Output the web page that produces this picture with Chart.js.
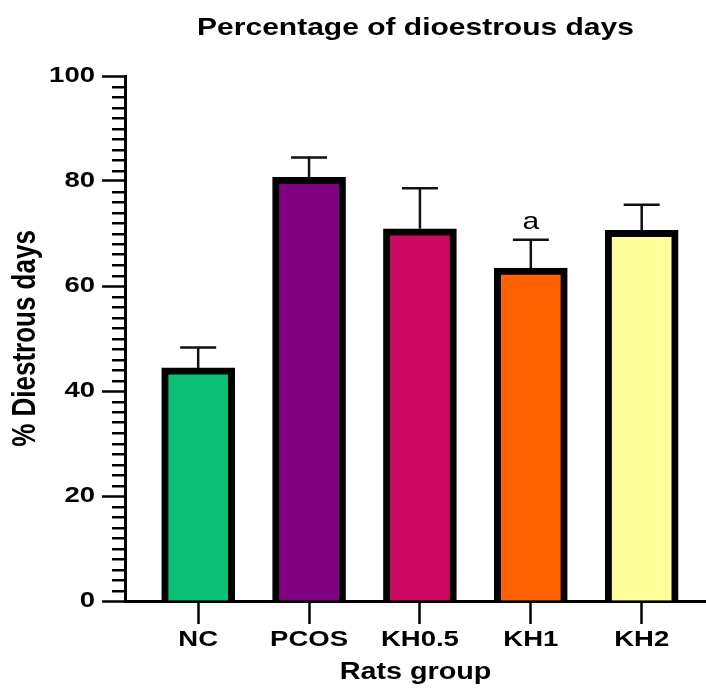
<!DOCTYPE html>
<html>
<head>
<meta charset="utf-8">
<title>Percentage of dioestrous days</title>
<script src="https://cdn.jsdelivr.net/npm/chart.js@4.4.1/dist/chart.umd.min.js"></script>
<style>
  body { margin: 0; background: #fff; }
  canvas { display: block; }
</style>
</head>
<body>
<canvas id="dioestrous-chart" width="706" height="689"></canvas>
<script>
// data
const groups = ['NC', 'PCOS', 'KH0.5', 'KH1', 'KH2'];
const meanPercent = [44.4, 80.7, 70.9, 63.4, 70.6];
const semPercent = [3.9, 3.8, 7.7, 5.4, 4.9];
const sigLetters = ['', '', '', 'a', ''];
const yTickValues = [0, 20, 40, 60, 80, 100];
const barColours = ['#0abf76', '#800080', '#cd0963', '#ff6100', '#ffff9c'];

const FONT = '"Liberation Sans", Arial, Helvetica, sans-serif';
const TEXT_STRETCH = 1.25; // the source figure is stretched sideways
const DioestrousChart = document.getElementById('dioestrous-chart');

//STRETCHED TEXT: scale every label sideways around its own anchor point
const stretchTextPlugin = {
    id: 'stretchText',
    beforeInit(chart) {
        const ctx = chart.ctx;
        const fill = ctx.fillText.bind(ctx);
        ctx.fillText = function (text, x, y, maxWidth) {
            const m = ctx.getTransform();
            const p = m.transformPoint(new DOMPoint(x, y));
            ctx.save();
            ctx.setTransform(new DOMMatrix()
                .translate(p.x, p.y)
                .scale(TEXT_STRETCH, 1)
                .translate(-p.x, -p.y)
                .multiply(m));
            if (maxWidth === undefined) fill(text, x, y);
            else fill(text, x, y, maxWidth);
            ctx.restore();
        };
    }
};

//ERROR BARS + LETTERS
const errorBarPlugin = {
    id: 'errorBars',
    afterDatasetsDraw(chart) {
        const ctx = chart.ctx;
        const xs = chart.scales.x, ys = chart.scales.y;
        ctx.save();
        ctx.strokeStyle = '#111';
        ctx.lineWidth = 2.5;
        for (let i = 0; i < groups.length; i++) {
            const px = xs.getPixelForValue(i);
            const base = ys.getPixelForValue(meanPercent[i]);
            const top = ys.getPixelForValue(meanPercent[i] + semPercent[i]);
            ctx.beginPath();
            ctx.moveTo(px, base);
            ctx.lineTo(px, top);
            ctx.moveTo(px - 18, top);
            ctx.lineTo(px + 18, top);
            ctx.stroke();
            if (sigLetters[i]) {
                ctx.fillStyle = '#000';
                ctx.font = '24px ' + FONT;
                ctx.textAlign = 'center';
                ctx.textBaseline = 'alphabetic';
                ctx.fillText(sigLetters[i], px, top - 11);
            }
        }
        ctx.restore();
    }
};

//MINOR TICKS on the y axis (shorter than the labelled ones)
const minorTickPlugin = {
    id: 'minorTicks',
    afterDraw(chart) {
        const ctx = chart.ctx;
        const ys = chart.scales.y;
        ctx.save();
        ctx.strokeStyle = '#000';
        ctx.lineWidth = 2.5;
        ys.ticks.forEach(t => {
            if (yTickValues.includes(t.value)) return;
            const py = Math.round(ys.getPixelForValue(t.value)) + 0.25;
            ctx.beginPath();
            ctx.moveTo(ys.right - 13, py);
            ctx.lineTo(ys.right, py);
            ctx.stroke();
        });
        ctx.restore();
    }
};

new Chart(DioestrousChart, {
    type: 'bar',
    data: {
        datasets: [{
            label: '% Diestrous days',
            data: meanPercent.map((v, i) => ({ x: i, y: v })),
            backgroundColor: barColours,
            borderColor: '#000',
            borderWidth: 7,
            borderSkipped: 'bottom',
            barThickness: 73
        }]
    },
    options: {
        responsive: false,
        animation: false,
        layout: { padding: 0 },
        plugins: {
            legend: { display: false },
            tooltip: { enabled: false },
            title: {
                display: true,
                text: 'Percentage of dioestrous days',
                fullSize: false,
                color: '#000',
                font: { family: FONT, size: 24, weight: 'bold' },
                padding: { top: 14, bottom: 33.2 }
            }
        },
        scales: {
            x: {
                type: 'linear',
                offset: false,
                min: -0.66,
                max: 4.58,
                afterBuildTicks(scale) {
                    scale.ticks = groups.map((g, i) => ({ value: i }));
                },
                afterFit(scale) { scale.height = 88; },
                border: { display: true, color: '#000', width: 3 },
                grid: { offset: false, drawOnChartArea: false, drawTicks: true, tickLength: 23, tickWidth: 2.5, tickColor: '#000' },
                ticks: {
                    autoSkip: false,
                    maxRotation: 0,
                    padding: 3,
                    color: '#000',
                    font: { family: FONT, size: 22, weight: 'bold' },
                    callback: v => groups[v] ?? ''
                },
                title: {
                    display: true,
                    text: 'Rats group',
                    color: '#000',
                    font: { family: FONT, size: 23, weight: 'bold' },
                    padding: { top: 0, bottom: 3 }
                }
            },
            y: {
                min: 0,
                max: 100,
                afterFit(scale) { scale.width = 125; },
                border: { display: true, color: '#000', width: 3 },
                grid: {
                    drawOnChartArea: false,
                    drawTicks: true,
                    tickLength: 23,
                    tickWidth: 2.5,
                    tickColor: c => yTickValues.includes(c.tick.value) ? '#000' : 'rgba(0,0,0,0)'
                },
                ticks: {
                    stepSize: 2,
                    autoSkip: false,
                    padding: 7,
                    color: '#000',
                    font: { family: FONT, size: 22, weight: 'bold' },
                    callback: v => yTickValues.includes(v) ? v : ''
                },
                title: {
                    display: true,
                    text: '% Diestrous days',
                    color: '#000',
                    font: { family: FONT, size: 26, weight: 'bold' },
                    padding: { top: 10, bottom: 0 }
                }
            }
        }
    },
    plugins: [stretchTextPlugin, errorBarPlugin, minorTickPlugin]
});
</script>
</body>
</html>
